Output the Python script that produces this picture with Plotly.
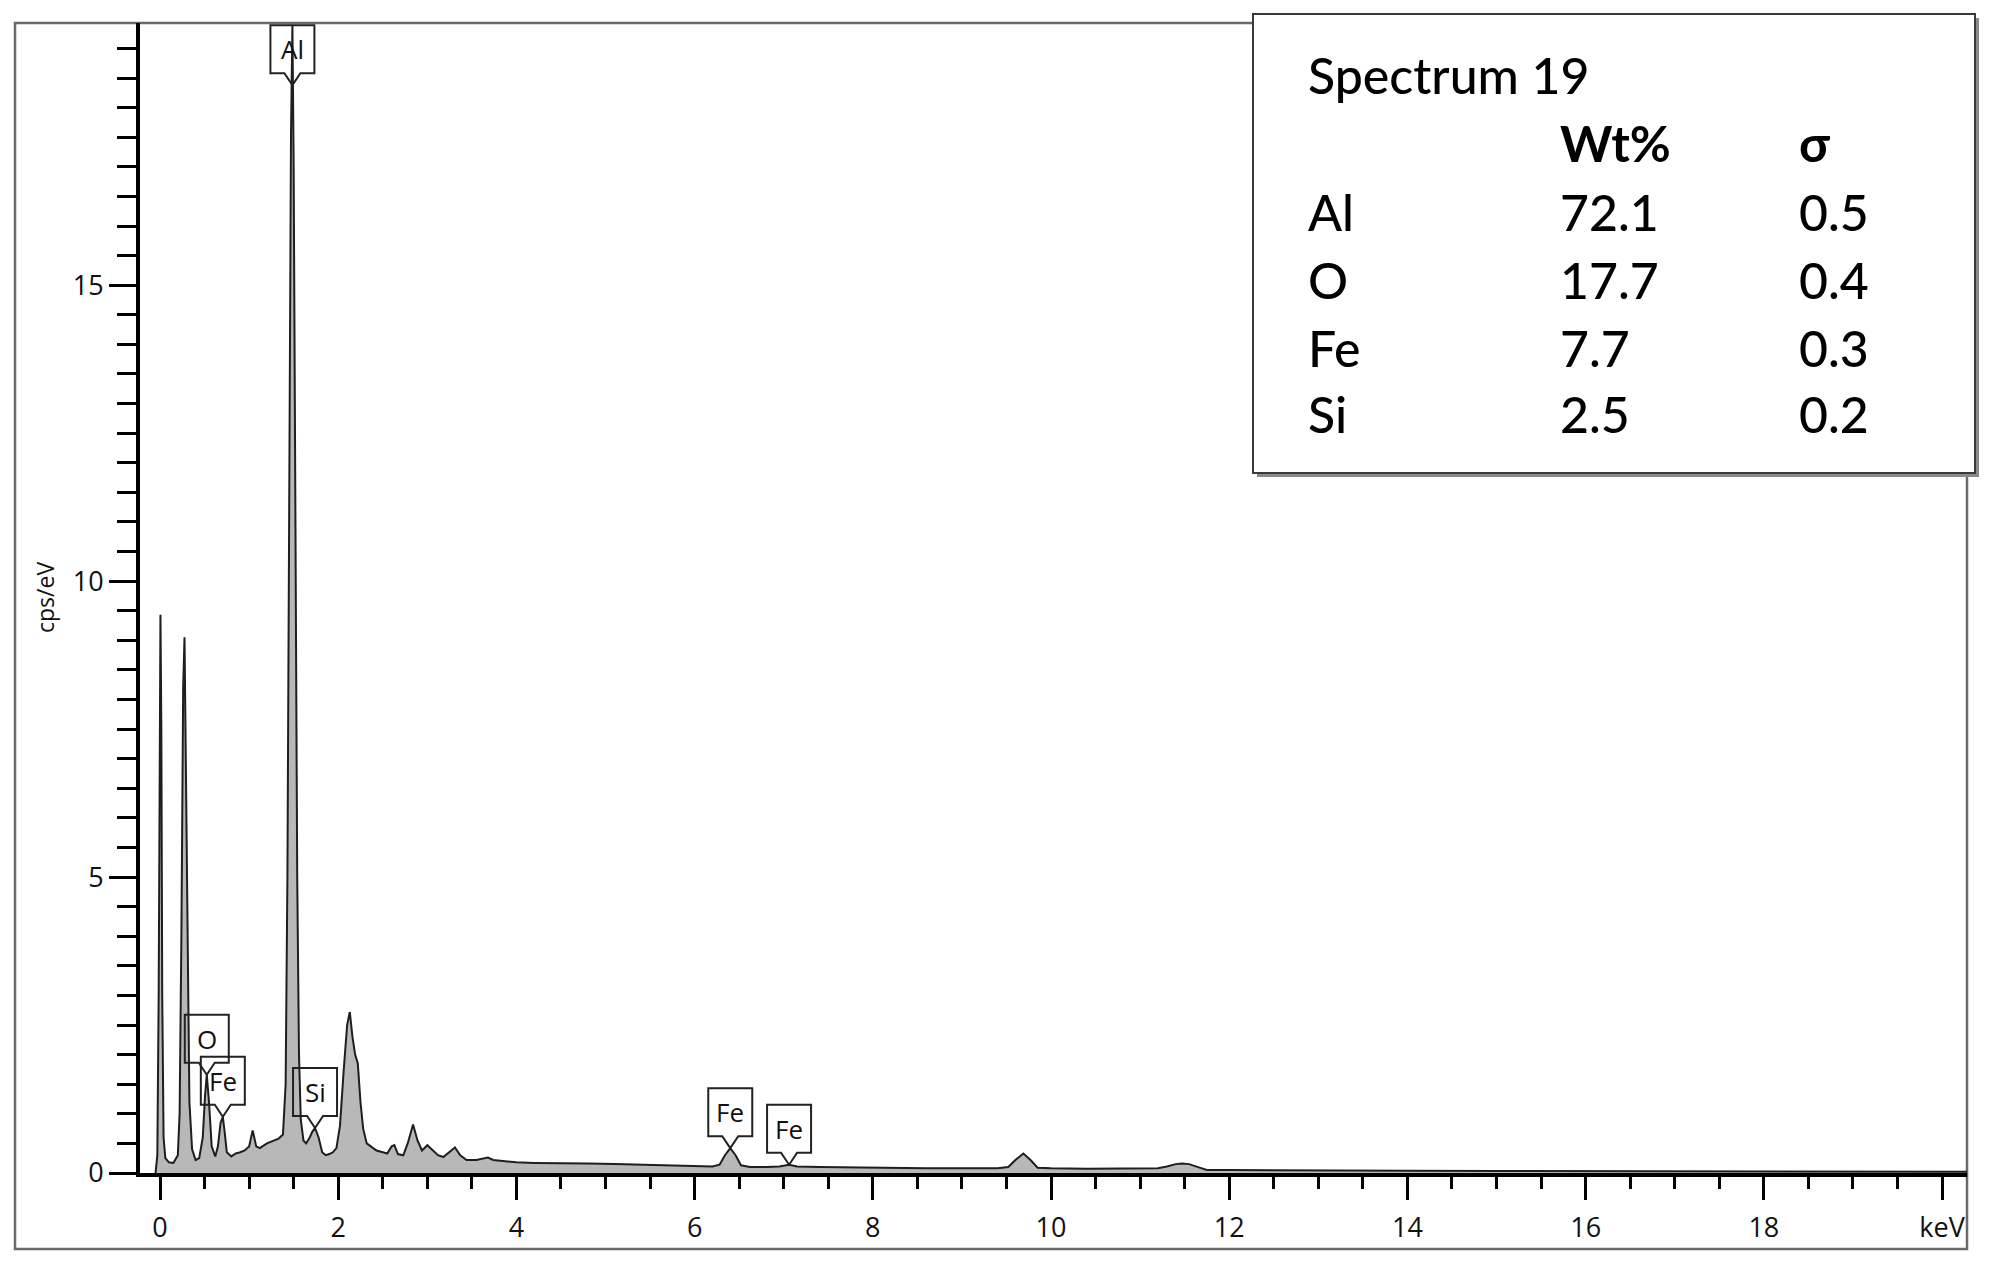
import plotly.graph_objects as go

# EDS spectrum (keV, cps/eV)
energy_kev = [-0.05, -0.03, -0.015, -0.005, 0.005, 0.015, 0.025, 0.04, 0.06, 0.10, 0.15,
              0.20, 0.22, 0.24, 0.26, 0.275, 0.29, 0.31, 0.33, 0.36, 0.40, 0.44, 0.48,
              0.505, 0.525, 0.55, 0.58, 0.62, 0.65, 0.68, 0.705, 0.725, 0.75, 0.80, 0.85,
              0.90, 0.95, 1.00, 1.04, 1.08, 1.12, 1.20, 1.28, 1.33, 1.38, 1.41, 1.43,
              1.45, 1.47, 1.486, 1.50, 1.52, 1.54, 1.56, 1.58, 1.61, 1.64, 1.68, 1.71,
              1.74, 1.78, 1.82, 1.86, 1.90, 1.94, 1.98, 2.02, 2.06, 2.10, 2.13, 2.16,
              2.19, 2.22, 2.25, 2.28, 2.32, 2.37, 2.43, 2.50, 2.55, 2.60, 2.63, 2.67,
              2.73, 2.78, 2.84, 2.89, 2.94, 3.00, 3.05, 3.12, 3.18, 3.25, 3.31, 3.37,
              3.44, 3.55, 3.62, 3.68, 3.74, 3.85, 4.00, 4.20, 4.50, 4.80, 5.10, 5.40,
              5.70, 6.00, 6.20, 6.28, 6.34, 6.40, 6.46, 6.52, 6.62, 6.80, 6.95, 7.06,
              7.15, 7.40, 7.80, 8.20, 8.60, 9.00, 9.40, 9.52, 9.60, 9.69, 9.77, 9.85,
              10.0, 10.4, 10.8, 11.2, 11.3, 11.4, 11.47, 11.55, 11.65, 11.75, 12.0,
              13.0, 14.0, 15.0, 16.0, 17.0, 18.0, 19.0, 20.0, 20.3]
counts = [0.0, 0.3, 3.0, 8.0, 9.43, 7.5, 3.0, 0.6, 0.25, 0.18, 0.17,
          0.3, 1.0, 4.0, 8.2, 9.05, 7.0, 3.5, 1.2, 0.4, 0.22, 0.25, 0.6,
          1.3, 1.66, 1.2, 0.45, 0.28, 0.45, 0.85, 0.95, 0.7, 0.35, 0.28, 0.33,
          0.35, 0.38, 0.45, 0.72, 0.45, 0.42, 0.5, 0.55, 0.58, 0.65, 1.5, 5.0,
          12.0, 17.5, 19.4, 17.0, 11.0, 5.0, 2.0, 0.9, 0.55, 0.5, 0.6, 0.7,
          0.76, 0.6, 0.35, 0.3, 0.32, 0.35, 0.42, 0.8, 1.7, 2.5, 2.72, 2.3,
          2.0, 1.85, 1.2, 0.75, 0.5, 0.45, 0.38, 0.35, 0.33, 0.45, 0.47, 0.32,
          0.3, 0.5, 0.82, 0.55, 0.38, 0.47, 0.4, 0.3, 0.27, 0.35, 0.43, 0.3,
          0.22, 0.22, 0.24, 0.26, 0.22, 0.2, 0.18, 0.17, 0.17, 0.16, 0.15, 0.14,
          0.13, 0.12, 0.11, 0.14, 0.3, 0.42, 0.3, 0.13, 0.1, 0.1, 0.11, 0.14,
          0.11, 0.1, 0.09, 0.09, 0.08, 0.08, 0.08, 0.1, 0.22, 0.33, 0.22, 0.09,
          0.08, 0.07, 0.07, 0.08, 0.11, 0.15, 0.16, 0.15, 0.1, 0.05, 0.05,
          0.04, 0.04, 0.035, 0.03, 0.03, 0.025, 0.02, 0.02, 0.02]

# peak labels (position of the pointer tip)
label_text = ["Al", "O", "Fe", "Si", "Fe", "Fe"]
label_kev = [1.486, 0.525, 0.705, 1.74, 6.40, 7.06]
label_cps = [18.38, 1.66, 0.95, 0.76, 0.42, 0.14]

# quantification table
table_title = "Spectrum 19"
table_cols = ["Wt%", "σ"]
elements = ["Al", "O", "Fe", "Si"]
wt_pct = ["72.1", "17.7", "7.7", "2.5"]
sigma = ["0.5", "0.4", "0.3", "0.2"]

# page body has an 8px margin, so the figure is made 8px smaller and shifted
OFF = 8
W, H = 1994 - OFF, 1261 - OFF
L, R, T, B = 140, 1967, 23, 1173
PW, PH = R - L, B - T


def px(x):
    return (x - L) / PW


def py(y):
    return (B - y) / PH


fig = go.Figure()
fig.add_trace(go.Scatter(x=energy_kev, y=counts, mode="lines", fill="tozeroy",
                         fillcolor="#b8b8b8", line=dict(color="#1e1e1e", width=2),
                         hoverinfo="skip"))

tick_font = dict(family="Open Sans", size=27, color="#111111")
fig.update_layout(
    width=W, height=H, showlegend=False,
    paper_bgcolor="white", plot_bgcolor="white",
    margin=dict(l=L - OFF, r=1994 - R, t=T - OFF, b=1261 - B),
    xaxis=dict(range=[-0.2245, 20.28], showgrid=False, zeroline=False, automargin=False,
               showline=True, linecolor="black", linewidth=4,
               tickmode="array", tickvals=[0, 2, 4, 6, 8, 10, 12, 14, 16, 18, 20],
               ticktext=["0", "2", "4", "6", "8", "10", "12", "14", "16", "18", "keV"],
               ticks="outside", ticklen=23, tickwidth=3, tickcolor="black",
               tickfont=tick_font, ticklabelstandoff=5,
               minor=dict(tickmode="linear", tick0=0, dtick=0.5, ticks="outside",
                          ticklen=12, tickwidth=3, tickcolor="black", showgrid=False)),
    yaxis=dict(range=[0, 19.43], showgrid=False, zeroline=False, automargin=False,
               showline=True, linecolor="black", linewidth=4,
               tickmode="linear", tick0=0, dtick=5,
               ticks="outside", ticklen=27, tickwidth=3, tickcolor="black",
               tickfont=tick_font,
               minor=dict(tickmode="linear", tick0=0, dtick=0.5, ticks="outside",
                          ticklen=19, tickwidth=3, tickcolor="black", showgrid=False)),
)

# y axis title
fig.add_annotation(text="cps/eV", textangle=-90, xref="paper", yref="paper",
                   x=px(45), y=py(598), xanchor="center", yanchor="middle", showarrow=False,
                   font=dict(family="Open Sans", size=23, color="#111111"))

# outer frame
fig.add_shape(type="rect", xref="paper", yref="paper",
              x0=px(15), x1=px(1967), y0=py(1249), y1=py(23),
              line=dict(color="#6a6a6a", width=2.5), layer="below")

# peak label callouts
callout = "M0,0 L-8,12 L-22,12 L-22,60 L22,60 L22,12 L8,12 Z"
for t, xk, yc in zip(label_text, label_kev, label_cps):
    fig.add_shape(type="path", xref="x", yref="y", xsizemode="pixel", ysizemode="pixel",
                  xanchor=xk, yanchor=yc, path=callout,
                  line=dict(color="#222222", width=2), fillcolor="rgba(0,0,0,0)")
    fig.add_annotation(text=t, x=xk, y=yc, xref="x", yref="y", showarrow=False,
                       yshift=36, xanchor="center", yanchor="middle",
                       font=dict(family="Open Sans", size=26, color="#111111"))

# quantification box with shadow
fig.add_shape(type="rect", xref="paper", yref="paper",
              x0=px(1257), x1=px(1979), y0=py(477), y1=py(18),
              line=dict(width=0), fillcolor="#8a8a8a", layer="above")
fig.add_shape(type="rect", xref="paper", yref="paper",
              x0=px(1253), x1=px(1975), y0=py(473), y1=py(14),
              line=dict(color="#3a3a3a", width=2), fillcolor="white", layer="above")

tfont = dict(family="Lato", size=50, color="#000000", weight=500)
bfont = dict(family="Lato", size=50, color="#000000", weight="bold")
fig.add_annotation(text=table_title, xref="paper", yref="paper", x=px(1306), y=py(75),
                   xanchor="left", yanchor="middle", showarrow=False, font=tfont)
col_x = [1558, 1797]
for cx, c in zip(col_x, table_cols):
    fig.add_annotation(text=c, xref="paper", yref="paper", x=px(cx), y=py(143),
                       xanchor="left", yanchor="middle", showarrow=False, font=bfont)
row_y = [212, 280, 348, 414]
for ry, el, w, s in zip(row_y, elements, wt_pct, sigma):
    for cx, txt in zip([1306, 1558, 1797], [el, w, s]):
        fig.add_annotation(text=txt, xref="paper", yref="paper", x=px(cx), y=py(ry),
                           xanchor="left", yanchor="middle", showarrow=False, font=tfont)

fig.write_html("out.html")
